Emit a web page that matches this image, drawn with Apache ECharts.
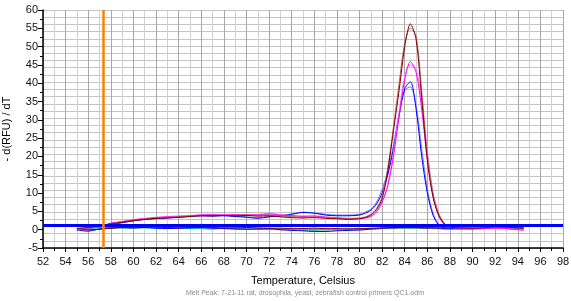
<!DOCTYPE html>
<html>
<head>
<meta charset="utf-8">
<script src="https://cdn.jsdelivr.net/npm/echarts@6/dist/echarts.min.js"></script>
<style>
  html, body { margin: 0; padding: 0; background: #fff; }
  #chart { width: 571px; height: 301px; }
</style>
</head>
<body>
<div id="chart"></div>
<script>
var temps = [55, 56, 57, 58, 59, 60, 61, 62, 63, 64, 65, 66, 67, 68, 69, 70, 71, 72, 73, 74, 75, 76, 77, 78, 79, 80,
    80.5, 81, 81.5, 82, 82.5, 83, 83.5, 84, 84.5, 85, 85.5, 86, 86.5, 87, 87.5, 88, 89, 90, 91, 92, 93, 94, 94.5];

// high melt peaks
var maroon = [0.3, 0.6, 1.0, 1.6, 2.0, 2.5, 2.8, 3.1, 3.2, 3.4, 3.6, 3.8, 3.8, 3.9, 3.8, 3.9, 3.7, 3.8, 3.5, 3.3, 3.2, 3.3, 3.1, 3.0, 2.8, 3.0,
    3.3, 4.0, 5.5, 8.5, 16, 27, 38, 50, 56.2, 52, 36, 19, 9, 4, 1.6, 0.7, 0.5, 0.4, 0.5, 0.8, 0.7, 0.5, 0.4];
var rosy = [0.2, 0.5, 0.9, 1.5, 2.1, 2.6, 2.9, 3.2, 3.4, 3.5, 3.7, 3.9, 4.0, 3.9, 4.0, 4.1, 3.9, 4.0, 3.7, 3.6, 3.4, 3.5, 3.3, 3.2, 3.1, 3.2,
    3.5, 4.2, 5.8, 9, 17, 28, 40, 51, 55, 53, 38, 21, 10, 4.5, 1.8, 0.8, 0.6, 0.5, 0.6, 0.7, 0.6, 0.5, 0.4];
var magenta = [0.3, 0.5, 0.9, 1.8, 2.2, 2.7, 3.0, 3.3, 3.5, 3.6, 3.8, 4.0, 4.1, 4.0, 4.1, 4.0, 4.0, 4.3, 4.0, 3.8, 3.6, 3.7, 3.4, 3.2, 3.0, 3.0,
    3.2, 3.6, 4.8, 7.5, 12, 20, 31, 41, 45.9, 43, 33, 19, 9, 3.8, 1.4, 0.6, 0.5, 0.4, 0.4, 0.5, 0.3, 0.0, -0.2];
var pink = [0.2, 0.4, 0.8, 1.6, 2.3, 2.8, 3.1, 3.4, 3.6, 3.8, 3.9, 4.1, 4.2, 4.1, 4.2, 4.1, 4.2, 4.5, 4.1, 3.9, 3.8, 3.8, 3.5, 3.3, 3.1, 3.1,
    3.3, 3.8, 5.0, 7.8, 12.5, 21, 32, 42, 45, 44, 35, 21, 10, 4.2, 1.6, 0.7, 0.5, 0.5, 0.5, 0.4, 0.3, 0.1, 0.0];
var blue = [0.2, 0.4, 0.8, 1.4, 1.9, 2.4, 2.8, 3.0, 3.2, 3.4, 3.6, 3.8, 3.7, 3.8, 3.6, 3.4, 3.1, 3.5, 3.8, 4.2, 4.7, 4.5, 4.0, 3.8, 3.8, 4.0,
    4.5, 5.3, 7.0, 10, 15, 22, 31, 38.5, 40.4, 33, 20, 10, 4, 1.3, 0.5, 0.4, 0.3, 0.3, 0.4, 0.4, 0.3, 0.2, 0.1];
var lightBlue = [0.2, 0.4, 0.8, 1.5, 2.0, 2.5, 2.9, 3.1, 3.3, 3.5, 3.7, 3.9, 3.8, 3.9, 3.7, 3.5, 3.3, 3.6, 3.9, 4.3, 4.8, 4.6, 4.2, 4.0, 4.0, 4.2,
    4.8, 5.6, 7.5, 11, 16, 23, 32, 38, 39, 34, 22, 11, 4.5, 1.5, 0.6, 0.4, 0.3, 0.3, 0.3, 0.4, 0.3, 0.2, 0.1];

// flat controls
var green = [0.3, 0.0, 0.2, 0.4, 0.5, 0.4, 0.6, 0.5, 0.4, 0.3, 0.4, 0.3, 0.2, 0.4, 0.3, 0.3, 0.2, 0.1, 0.0, 0.1, 0.2, 0.0, 0.0, 0.1, 0.2, 0.1,
    0.1, 0.2, 0.2, 0.3, 0.3, 0.3, 0.4, 0.4, 0.4, 0.4, 0.3, 0.3, 0.3, 0.3, 0.2, 0.2, 0.3, 0.2, 0.3, 0.4, 0.5, 0.5, 0.4];
var cyan = [0.2, 0.3, 0.5, 0.6, 0.5, 0.6, 0.5, 0.4, 0.5, 0.4, 0.3, 0.3, 0.4, 0.3, 0.2, 0.2, 0.1, 0.0, 0.1, 0.0, -0.1, -0.2, 0.0, 0.1, 0.0, 0.2,
    0.2, 0.3, 0.4, 0.4, 0.5, 0.5, 0.6, 0.6, 0.6, 0.5, 0.5, 0.5, 0.4, 0.4, 0.3, 0.3, 0.3, 0.4, 0.3, 0.4, 0.5, 0.5, 0.4];
var gray = [0.4, 0.5, 0.6, 0.7, 0.6, 0.5, 0.6, 0.6, 0.5, 0.5, 0.6, 0.5, 0.4, 0.4, 0.5, 0.4, 0.3, 0.3, 0.2, 0.1, 0.0, 0.1, 0.0, -0.1, 0.0, 0.1,
    0.2, 0.2, 0.3, 0.4, 0.4, 0.4, 0.5, 0.5, 0.5, 0.5, 0.4, 0.4, 0.3, 0.3, 0.2, 0.1, 0.1, 0.2, 0.3, 0.4, 0.6, 0.6, 0.5];
var blueLow = [-0.1, -0.4, 0.2, 0.5, 0.6, 0.5, 0.6, 0.4, 0.3, 0.4, 0.5, 0.6, 0.4, 0.3, 0.2, 0.1, 0.2, 0.3, 0.0, -0.2, -0.3, -0.5, -0.5, -0.3, -0.2, -0.1,
    0.0, 0.2, 0.3, 0.4, 0.5, 0.6, 0.6, 0.7, 0.7, 0.7, 0.6, 0.5, 0.5, 0.4, 0.4, 0.4, 0.5, 0.6, 0.5, 0.6, 0.7, 0.6, 0.5];
var redLow = [0.1, -0.1, 0.1, 0.4, 0.6, 0.7, 0.8, 0.7, 0.6, 0.5, 0.6, 0.7, 0.6, 0.5, 0.5, 0.6, 0.5, 0.4, 0.4, 0.3, 0.3, 0.4, 0.3, 0.3, 0.2, 0.3,
    0.3, 0.4, 0.4, 0.5, 0.5, 0.5, 0.6, 0.6, 0.6, 0.6, 0.5, 0.5, 0.5, 0.5, 0.5, 0.6, 0.7, 0.7, 0.8, 0.9, 0.8, 0.6, 0.5];

var threshold = 1.3;
var cursorTemp = 57.3;

function pairs(vals) {
    return temps.map(function (t, i) { return [t, vals[i]]; });
}

function curve(vals, color) {
    return {
        type: 'line',
        data: pairs(vals),
        showSymbol: false,
        symbol: 'none',
        smooth: 0.3,
        lineStyle: { color: color, width: 1 },
        silent: true
    };
}

var series = [
    curve(green, '#008000'),
    curve(cyan, '#00c8c8'),
    curve(gray, '#909090'),
    curve(blueLow, '#0000ff'),
    curve(redLow, '#800000'),
    curve(lightBlue, '#7070ff'),
    curve(blue, '#0000ff'),
    curve(pink, '#ff80ff'),
    curve(magenta, '#ff00ff'),
    curve(rosy, '#c06a6a'),
    curve(maroon, '#800000')
];
series[series.length - 1].markLine = {
    silent: true,
    symbol: 'none',
    label: { show: false },
    animation: false,
    data: [
        { yAxis: threshold, lineStyle: { color: '#0000ff', width: 3, type: 'solid' } },
        { xAxis: cursorTemp, lineStyle: { color: '#ff8000', width: 2.5, type: 'solid' } }
    ]
};

var myChart = echarts.init(document.getElementById('chart'));
var option = {
    animation: false,
    title: {
        text: 'Melt Peak: 7-21-11 rat, drosophila, yeast, zebrafish control primers QC1.odm',
        left: 300,
        textAlign: 'center',
        top: 285,
        textStyle: { fontFamily: 'Liberation Sans', fontSize: 7, fontWeight: 'normal', color: '#8a8a8a' }
    },
    grid: { left: 43, right: 8, top: 10, bottom: 53, outerBoundsMode: 'none', containLabel: false },
    xAxis: [{
        type: 'value',
        min: 52,
        max: 98,
        interval: 2,
        name: 'Temperature, Celsius',
        nameLocation: 'middle',
        nameGap: 27,
        nameTextStyle: { fontFamily: 'Liberation Sans', fontSize: 11, color: '#000' },
        axisLine: { onZero: false, lineStyle: { color: '#000', width: 1.5 } },
        axisTick: { length: 4, lineStyle: { color: '#000' } },
        minorTick: { show: true, splitNumber: 2, length: 3, lineStyle: { color: '#000' } },
        axisLabel: { fontFamily: 'Liberation Sans', fontSize: 11, color: '#111', margin: 8 },
        splitLine: { lineStyle: { color: '#a8a8a8', width: 1 } },
        minorSplitLine: { show: true, lineStyle: { color: '#cfcfcf', width: 1 } }
    }],
    yAxis: [{
        type: 'value',
        min: -5,
        max: 60,
        interval: 5,
        name: '- d(RFU) / dT',
        nameLocation: 'middle',
        nameGap: 31,
        nameTextStyle: { fontFamily: 'Liberation Sans', fontSize: 11, color: '#000' },
        axisLine: { show: true, onZero: false, lineStyle: { color: '#000', width: 1.5 } },
        axisTick: { length: 5, lineStyle: { color: '#000' } },
        minorTick: { show: true, splitNumber: 2, length: 3, lineStyle: { color: '#000' } },
        axisLabel: { fontFamily: 'Liberation Sans', fontSize: 11, color: '#111', margin: 5 },
        splitLine: { show: false }
    }, {
        // background grid only
        type: 'value',
        min: -6,
        max: 60,
        interval: 2,
        position: 'right',
        axisLine: { show: false },
        axisTick: { show: false },
        axisLabel: { show: false },
        splitLine: { lineStyle: { color: '#c4c4c4', width: 1 } }
    }],
    series: series
};
myChart.setOption(option);
window.addEventListener('resize', function () {
    myChart.resize();
});
</script>
</body>
</html>
